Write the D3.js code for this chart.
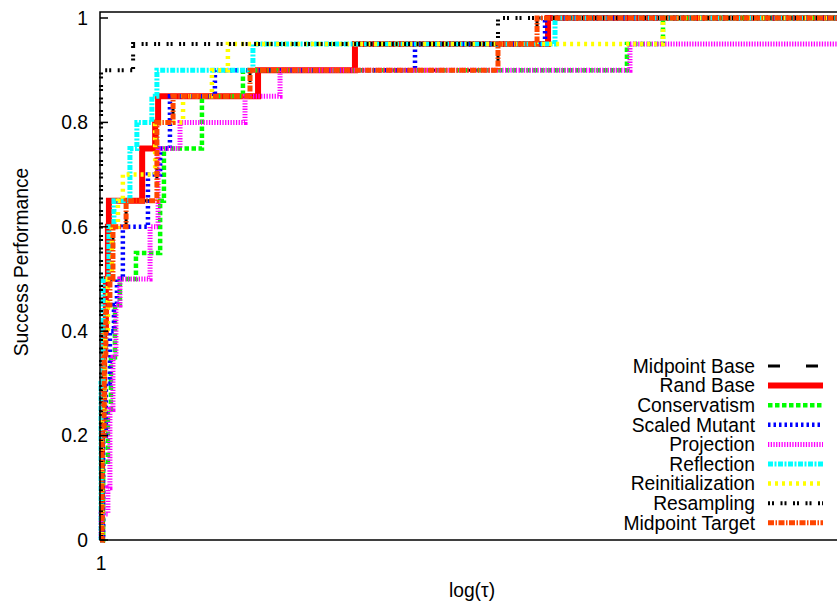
<!DOCTYPE html>
<html lang="en">
<head>
<meta charset="UTF-8">
<title>Success Performance</title>
<script src="https://d3js.org/d3.v7.min.js"></script>
<style>
  body { margin: 0; background: #fff; }
  svg { font-family: "Liberation Sans", Arial, sans-serif; }
</style>
</head>
<body>
<div id="chart"></div>
<script>
// step data: [tau, fraction solved]
const seriesNames = ["Midpoint Base", "Rand Base", "Conservatism", "Scaled Mutant", "Projection",
                     "Reflection", "Reinitialization", "Resampling", "Midpoint Target"];

const midpointBase = [[1,0],[1.006,0.2],[1.012,0.35],[1.017,0.45],[1.029,0.5],[1.038,0.6],[1.078,0.65],
                      [1.178,0.8],[1.234,0.85],[1.540,0.9],[3.144,0.95],[3.518,1],[10,1]];
const randBase = [[1,0],[1.006,0.25],[1.012,0.4],[1.017,0.5],[1.023,0.6],[1.026,0.65],[1.129,0.75],
                  [1.172,0.8],[1.182,0.85],[1.576,0.9],[2.083,0.95],[3.631,1],[10,1]];
const conservatism = [[1,0],[1.009,0.15],[1.023,0.25],[1.032,0.35],[1.044,0.45],[1.059,0.5],[1.109,0.55],
                      [1.189,0.65],[1.202,0.75],[1.341,0.85],[1.509,0.9],[4.557,0.95],[5.055,1],[10,1]];
const scaledMutant = [[1,0],[1.009,0.2],[1.017,0.3],[1.029,0.4],[1.041,0.45],[1.050,0.5],[1.068,0.6],
                      [1.148,0.7],[1.189,0.75],[1.223,0.85],[1.392,0.9],[2.476,0.95],[3.600,1],[10,1]];
const projection = [[1,0],[1.003,0.05],[1.023,0.1],[1.029,0.25],[1.038,0.35],[1.047,0.45],[1.059,0.5],
                    [1.155,0.6],[1.182,0.75],[1.259,0.8],[1.518,0.85],[1.679,0.9],[4.597,0.95],[10,0.95]];
const reflection = [[1,0],[1.003,0.3],[1.009,0.5],[1.026,0.6],[1.041,0.65],[1.090,0.75],[1.112,0.8],
                    [1.161,0.85],[1.178,0.9],[1.553,0.95],[3.705,1],[10,1]];
const reinitialization = [[1,0],[1.006,0.25],[1.014,0.4],[1.023,0.5],[1.035,0.6],[1.053,0.65],[1.068,0.7],
                          [1.172,0.8],[1.270,0.85],[1.380,0.9],[1.445,0.95],[5.055,1],[10,1]];
const resampling = [[1,0],[1.003,0.9],[1.100,0.95],[3.144,1],[10,1]];
const midpointTarget = [[1,0],[1.006,0.2],[1.012,0.35],[1.017,0.45],[1.029,0.5],[1.038,0.6],[1.078,0.65],
                        [1.178,0.8],[1.234,0.85],[1.540,0.9],[3.144,0.95],[3.518,1],[10,1]];

const yTicks = [0, 0.2, 0.4, 0.6, 0.8, 1];
const yTickLabels = ["0", "0.2", "0.4", "0.6", "0.8", "1"];
const xTicks = [1];
const xTickLabels = ["1"];

const allSeries = [midpointBase, randBase, conservatism, scaledMutant, projection,
                   reflection, reinitialization, resampling, midpointTarget];

// gnuplot-ish line styles
const styles = [
    { color: "#000000", width: 3,   dash: "12,26" },
    { color: "#ff0000", width: 6,   dash: null },
    { color: "#00ff00", width: 4.5, dash: "4.5,2.5" },
    { color: "#0000ff", width: 4.5, dash: "2.5,3" },
    { color: "#ff00ff", width: 5,   dash: "1.3,1.4" },
    { color: "#00ffff", width: 5,   dash: "5,1.5,2,1.5" },
    { color: "#ffff00", width: 4.5, dash: "3,4" },
    { color: "#000000", width: 4,   dash: "2,2,2,6.5" },
    { color: "#ff4500", width: 5,   dash: "6,1.5,1.5,1.5" }
];

const width = 837, height = 606;
const plotLeft = 100, plotTop = 12, plotBottom = 540, plotRight = 837;
const fontSize = 19.3;

const svg = d3.select("#chart").append("svg")
    .attr("width", width)
    .attr("height", height);

const x = d3.scaleLog().domain([1, 10]).range([100, 900]);
const y = d3.scaleLinear().domain([0, 1]).range([540, 18]);

svg.append("clipPath").attr("id", "clip")
    .append("rect")
    .attr("x", 0).attr("y", 0)
    .attr("width", plotRight).attr("height", height);

const line = d3.line()
    .x(d => x(d[0]))
    .y(d => y(d[1]))
    .curve(d3.curveStepAfter);

const plot = svg.append("g").attr("clip-path", "url(#clip)");

allSeries.forEach((data, i) => {
    const s = styles[i];
    plot.append("path")
        .datum(data)
        .attr("d", line)
        .attr("fill", "none")
        .attr("stroke", s.color)
        .attr("stroke-width", s.width)
        .attr("stroke-dasharray", s.dash)
        .attr("stroke-linejoin", "miter");
});

// border
const border = svg.append("g").attr("stroke", "#000").attr("stroke-width", 1.5).attr("fill", "none");
border.append("path")
    .attr("d", `M${plotRight},${plotTop}H${plotLeft}V${plotBottom}H${plotRight}`);

// y ticks (inward) and labels
yTicks.forEach((t, i) => {
    border.append("line")
        .attr("x1", plotLeft).attr("x2", plotLeft + 8)
        .attr("y1", y(t)).attr("y2", y(t));
    svg.append("text")
        .attr("x", 88)
        .attr("y", y(t))
        .attr("dy", "0.35em")
        .attr("text-anchor", "end")
        .attr("font-size", fontSize)
        .text(yTickLabels[i]);
});

// x ticks
xTicks.forEach((t, i) => {
    border.append("line")
        .attr("x1", x(t)).attr("x2", x(t))
        .attr("y1", plotBottom).attr("y2", plotBottom - 8);
    svg.append("text")
        .attr("x", x(t) + 1)
        .attr("y", 563)
        .attr("dy", "0.35em")
        .attr("text-anchor", "middle")
        .attr("font-size", fontSize)
        .text(xTickLabels[i]);
});

// axis titles
svg.append("text")
    .attr("x", 472)
    .attr("y", 590)
    .attr("dy", "0.35em")
    .attr("text-anchor", "middle")
    .attr("font-size", fontSize)
    .text("log(τ)");

svg.append("text")
    .attr("transform", "translate(21,262) rotate(-90)")
    .attr("dy", "0.35em")
    .attr("text-anchor", "middle")
    .attr("font-size", fontSize)
    .text("Success Performance");

// legend
const legend = svg.append("g");
seriesNames.forEach((name, i) => {
    const ly = 366 + i * 19.6;
    legend.append("text")
        .attr("x", 755)
        .attr("y", ly)
        .attr("dy", "0.35em")
        .attr("text-anchor", "end")
        .attr("font-size", fontSize)
        .text(name);
    legend.append("line")
        .attr("x1", 768).attr("x2", 823)
        .attr("y1", ly).attr("y2", ly)
        .attr("stroke", styles[i].color)
        .attr("stroke-width", styles[i].width)
        .attr("stroke-dasharray", styles[i].dash);
});
</script>
</body>
</html>
